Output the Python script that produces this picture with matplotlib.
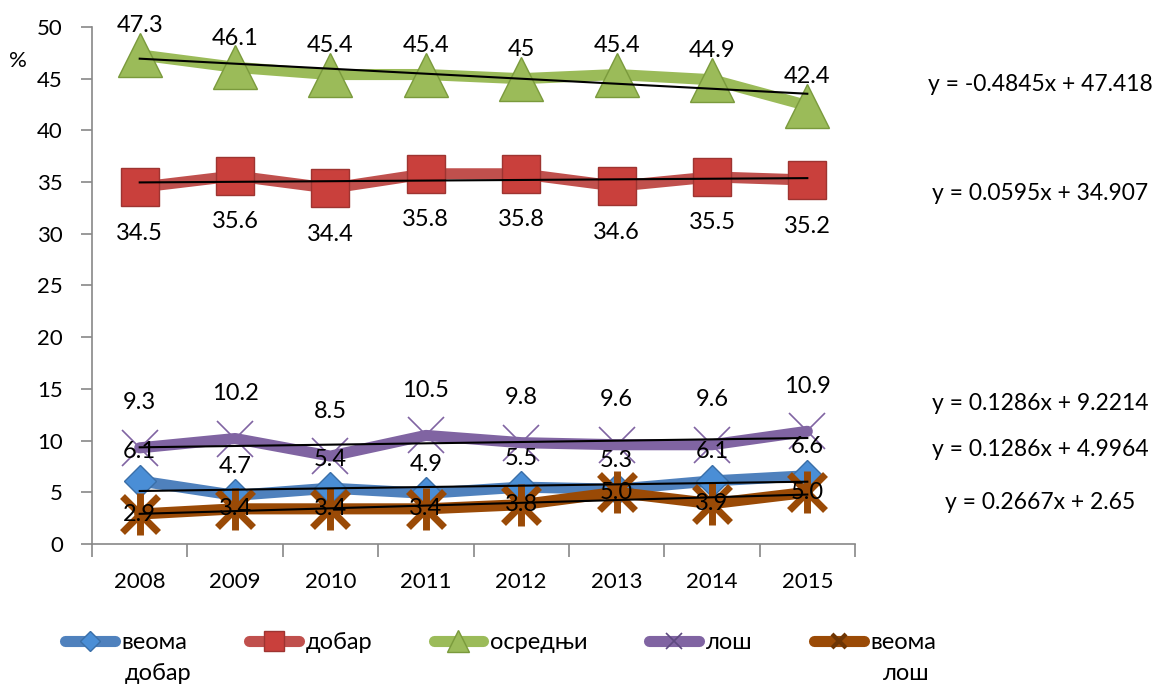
import matplotlib
matplotlib.use('Agg')
import matplotlib.pyplot as plt
from matplotlib.lines import Line2D
import numpy as np

plt.rcParams['font.family'] = ['Lato', 'DejaVu Sans']

years = ['2008', '2009', '2010', '2011', '2012', '2013', '2014', '2015']
names = ['веома', 'добар', 'осредњи', 'лош', 'веома']
names_second_line = {0: 'добар', 4: 'лош'}

very_good = [6.1, 4.7, 5.4, 4.9, 5.5, 5.3, 6.1, 6.6]
good = [34.5, 35.6, 34.4, 35.8, 35.8, 34.6, 35.5, 35.2]
average = [47.3, 46.1, 45.4, 45.4, 45, 45.4, 44.9, 42.4]
bad = [9.3, 10.2, 8.5, 10.5, 9.8, 9.6, 9.6, 10.9]
very_bad = [2.9, 3.4, 3.4, 3.4, 3.8, 5.0, 3.9, 5.0]

# data label texts as shown on the chart
lbl_very_good = ['6.1', '4.7', '5.4', '4.9', '5.5', '5.3', '6.1', '6.6']
lbl_good = ['34.5', '35.6', '34.4', '35.8', '35.8', '34.6', '35.5', '35.2']
lbl_average = ['47.3', '46.1', '45.4', '45.4', '45', '45.4', '44.9', '42.4']
lbl_bad = ['9.3', '10.2', '8.5', '10.5', '9.8', '9.6', '9.6', '10.9']
lbl_very_bad = ['2.9', '3.4', '3.4', '3.4', '3.8', '5.0', '3.9', '5.0']

# trendline coefficients (slope, intercept), x = 1..8
trends = [(-0.4845, 47.418), (0.0595, 34.907), (0.1286, 9.2214),
          (0.1286, 4.9964), (0.2667, 2.65)]
trend_text = ['y = -0.4845x + 47.418', 'y = 0.0595x + 34.907',
              'y = 0.1286x + 9.2214', 'y = 0.1286x + 4.9964',
              'y = 0.2667x + 2.65']
trend_text_y = [44.4, 33.9, 13.6, 9.1, 4.0]

c_blue = '#4F81BD'
c_red = '#C0504D'
c_green = '#9BBB59'
c_purple = '#8064A2'
c_brown = '#9A4A06'

fig = plt.figure(figsize=(11.62, 6.88), dpi=100)
ax = fig.add_axes([0.0792, 0.2093, 0.6566, 0.7515])
x = np.arange(len(years))

ax.plot(x, average, color=c_green, lw=8, marker='^', ms=31,
        mfc='#9BBB59', mec='#7A9A3C', mew=1, solid_capstyle='round', zorder=3)
ax.plot(x, good, color=c_red, lw=8, marker='s', ms=27,
        mfc='#C9403C', mec='#9E3431', mew=1, solid_capstyle='round', zorder=3)
ax.plot(x, bad, color=c_purple, lw=8, marker='x', ms=26,
        mec=c_purple, mew=1.2, solid_capstyle='round', zorder=3)
ax.plot(x, very_good, color=c_blue, lw=8, marker='D', ms=16,
        mfc='#4A8ED6', mec='#3A6FA8', mew=1, solid_capstyle='round', zorder=3)
ax.plot(x, very_bad, color=c_brown, lw=8, marker='x', ms=26,
        mec=c_brown, mew=5, solid_capstyle='round', zorder=3)
ax.plot(x, very_bad, ls='none', marker='|', ms=30, mec=c_brown, mew=5, zorder=3)

# trendlines
xt = np.array([1, 8])
for k, b in trends:
    ax.plot(xt - 1, k * xt + b, color='black', lw=1.5, zorder=4)

fs = 17
for xi, v, t in zip(x, average, lbl_average):
    ax.annotate(t, (xi, v), xytext=(0, 29), textcoords='offset pixels',
                ha='center', va='center', fontsize=fs, zorder=5)
for xi, v, t in zip(x, good, lbl_good):
    ax.annotate(t, (xi, v), xytext=(0, -46), textcoords='offset pixels',
                ha='center', va='center', fontsize=fs, zorder=5)
for xi, v, t in zip(x, bad, lbl_bad):
    ax.annotate(t, (xi, v), xytext=(0, 45), textcoords='offset pixels',
                ha='center', va='center', fontsize=fs, zorder=5)
for xi, v, t in zip(x, very_good, lbl_very_good):
    ax.annotate(t, (xi, v), xytext=(0, 29), textcoords='offset pixels',
                ha='center', va='center', fontsize=fs, zorder=5)
for xi, v, t in zip(x, very_bad, lbl_very_bad):
    ax.annotate(t, (xi, v), xytext=(0, 0), textcoords='offset pixels',
                ha='center', va='center', fontsize=fs, zorder=5)

for t, ty in zip(trend_text, trend_text_y):
    ax.text(1.2425, ty, t, transform=ax.get_yaxis_transform(),
            ha='center', va='center', fontsize=16.5, clip_on=False)

ax.set_xlim(-0.5, 7.5)
ax.set_ylim(0, 50)
ax.set_yticks(np.arange(0, 51, 5))
ax.set_xticks(x)
ax.set_xticklabels(years)
ax.set_xticks(np.arange(-0.5, 8, 1), minor=True)
ax.tick_params(axis='x', which='major', length=0, labelsize=16, pad=20)
ax.tick_params(axis='x', which='minor', length=9, color='#888888', width=1.2)
ax.tick_params(axis='y', length=8, color='#888888', width=1.2, labelsize=16, pad=13)
for s in ['top', 'right']:
    ax.spines[s].set_visible(False)
for s in ['left', 'bottom']:
    ax.spines[s].set_color('#888888')
    ax.spines[s].set_linewidth(1.2)

fig.text(0.008, 0.912, '%', fontsize=16, ha='left', va='center')

handles = [
    Line2D([], [], color=c_blue, lw=8, marker='D', ms=10, mfc='#4A8ED6', mec='#3A6FA8', solid_capstyle='round'),
    Line2D([], [], color=c_red, lw=8, marker='s', ms=14, mfc='#C9403C', mec='#9E3431', solid_capstyle='round'),
    Line2D([], [], color=c_green, lw=8, marker='^', ms=16, mfc='#9BBB59', mec='#7A9A3C', solid_capstyle='round'),
    Line2D([], [], color=c_purple, lw=8, marker='x', ms=12, mec='#5E4A80', mew=1.2, solid_capstyle='round'),
    Line2D([], [], color=c_brown, lw=8, marker='x', ms=10, mec='#6E3504', mew=3, solid_capstyle='round'),
]
leg = fig.legend(handles, names, loc='upper left', bbox_to_anchor=(0.056, 0.081),
                 ncol=5, frameon=False, fontsize=17, handlelength=2.1,
                 handletextpad=0.3, columnspacing=2.6, borderaxespad=0,
                 borderpad=0)

# second line of wrapped legend labels
fig.canvas.draw()
for i, word in names_second_line.items():
    bb = leg.get_texts()[i].get_window_extent()
    fig.text((bb.x0 + bb.x1) / 2 + 3, (bb.y0 + bb.y1) / 2 - 31, word,
             transform=None, fontsize=17, ha='center', va='center')

fig.savefig('out.png', dpi=100)
